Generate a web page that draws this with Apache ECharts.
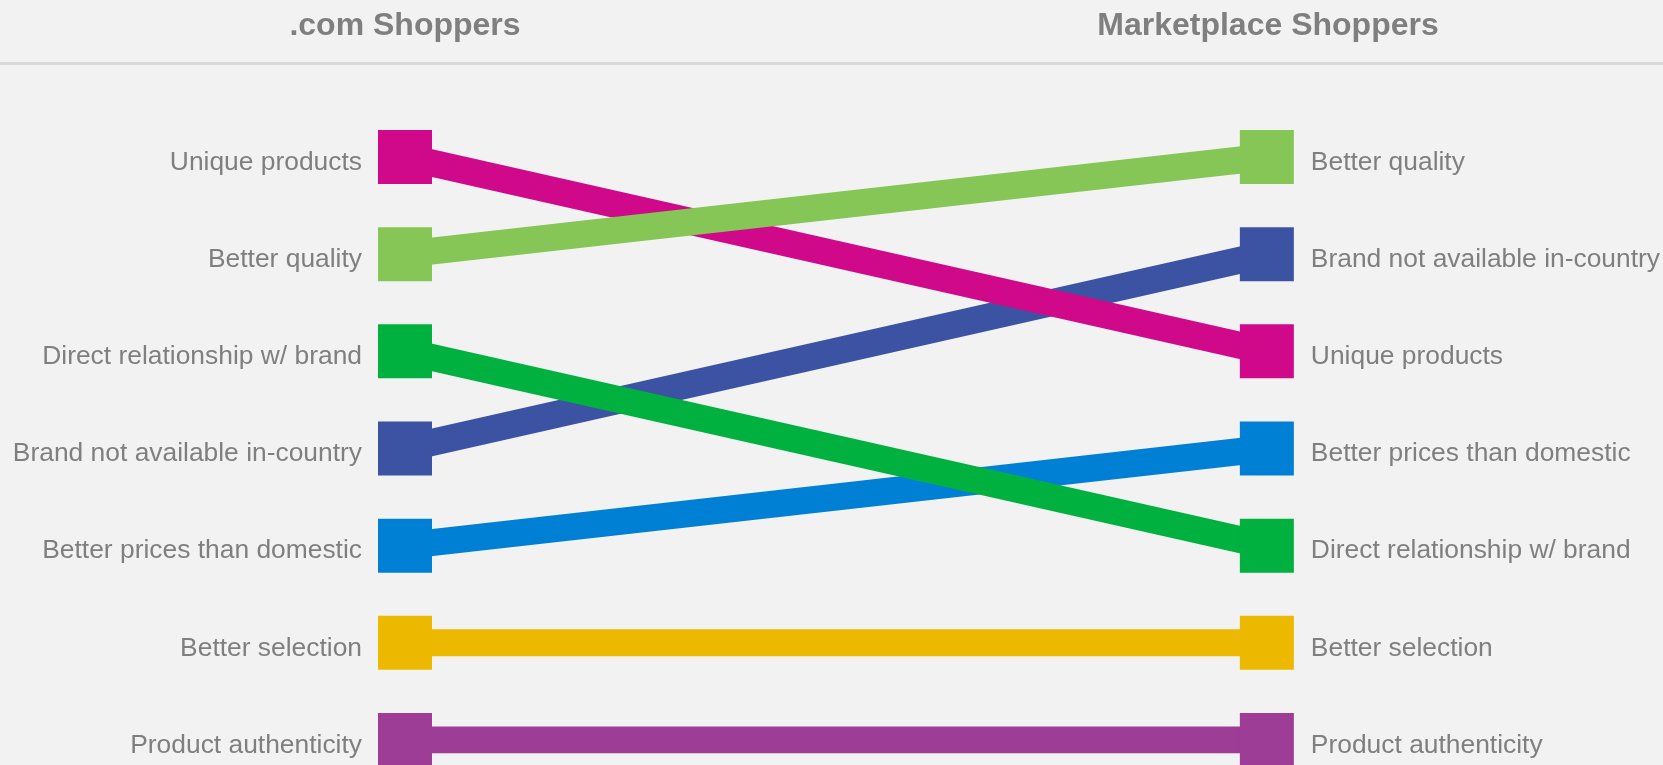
<!DOCTYPE html>
<html>
<head>
<meta charset="utf-8">
<title>.com vs Marketplace Shoppers</title>
<script src="https://cdn.jsdelivr.net/npm/echarts@6/dist/echarts.min.js"></script>
<style>
  html, body { margin: 0; padding: 0; background: #f2f2f2; }
  #chart { width: 1663px; height: 765px; }
</style>
</head>
<body>
<div id="chart"></div>
<script>
// Column headings
const columnTitles = ['.com Shoppers', 'Marketplace Shoppers'];

// Reasons, ranked top to bottom for each shopper group
const comRanking = [
  'Unique products',
  'Better quality',
  'Direct relationship w/ brand',
  'Brand not available in-country',
  'Better prices than domestic',
  'Better selection',
  'Product authenticity'
];
const marketplaceRanking = [
  'Better quality',
  'Brand not available in-country',
  'Unique products',
  'Better prices than domestic',
  'Direct relationship w/ brand',
  'Better selection',
  'Product authenticity'
];

// Drawing order (later lines sit on top of earlier ones) and colours
const reasons = [
  'Brand not available in-country',
  'Better prices than domestic',
  'Unique products',
  'Better quality',
  'Direct relationship w/ brand',
  'Better selection',
  'Product authenticity'
];
const reasonColors = ['#3c53a4', '#0080d5', '#d0098b', '#85c657', '#00b140', '#edb900', '#9d3d96'];

const labelColor = '#7f7f7f';
const labelFont = 'Liberation Sans, Arial, sans-serif';

const chart = echarts.init(document.getElementById('chart'), null, { renderer: 'canvas' });

const series = reasons.map((name, i) => ({
  name: name,
  type: 'line',
  yAxisIndex: 0,
  data: [
    [0, comRanking.indexOf(name)],
    [1, marketplaceRanking.indexOf(name)]
  ],
  symbol: 'rect',
  symbolSize: 54,
  showAllSymbol: true,
  animation: false,
  lineStyle: { color: reasonColors[i], width: 27, cap: 'butt' },
  itemStyle: { color: reasonColors[i], opacity: 1 },
  emphasis: { disabled: true },
  z: 2 + i
}));

// Labels sit slightly below the marker centres
const yAxisBase = {
  type: 'category',
  inverse: true,
  boundaryGap: false,
  axisLine: { show: false },
  axisTick: { show: false },
  splitLine: { show: false },
  axisLabel: {
    color: labelColor,
    fontSize: 26.4,
    fontFamily: labelFont,
    margin: 43,
    verticalAlign: 'top',
    lineHeight: 11
  }
};

const titleStyle = { color: labelColor, fontSize: 32, fontWeight: 'bold', fontFamily: labelFont };

chart.setOption({
  backgroundColor: '#f2f2f2',
  animation: false,
  title: [
    { text: columnTitles[0], left: 405, top: 10, padding: 0, textAlign: 'center', textStyle: titleStyle },
    { text: columnTitles[1], left: 1268, top: 10, padding: 0, textAlign: 'center', textStyle: titleStyle }
  ],
  graphic: [
    {
      type: 'line',
      shape: { x1: 0, y1: 63.5, x2: 1663, y2: 63.5 },
      style: { stroke: '#d9d9d9', lineWidth: 3 },
      silent: true
    }
  ],
  grid: { left: 405, right: 394, top: 157, bottom: 25, containLabel: false },
  xAxis: {
    type: 'value',
    min: 0,
    max: 1,
    show: false
  },
  yAxis: [
    Object.assign({}, yAxisBase, { position: 'left', data: comRanking }),
    Object.assign({}, yAxisBase, { position: 'right', data: marketplaceRanking, axisLabel: Object.assign({}, yAxisBase.axisLabel, { margin: 44 }) })
  ],
  series: series
});
</script>
</body>
</html>
